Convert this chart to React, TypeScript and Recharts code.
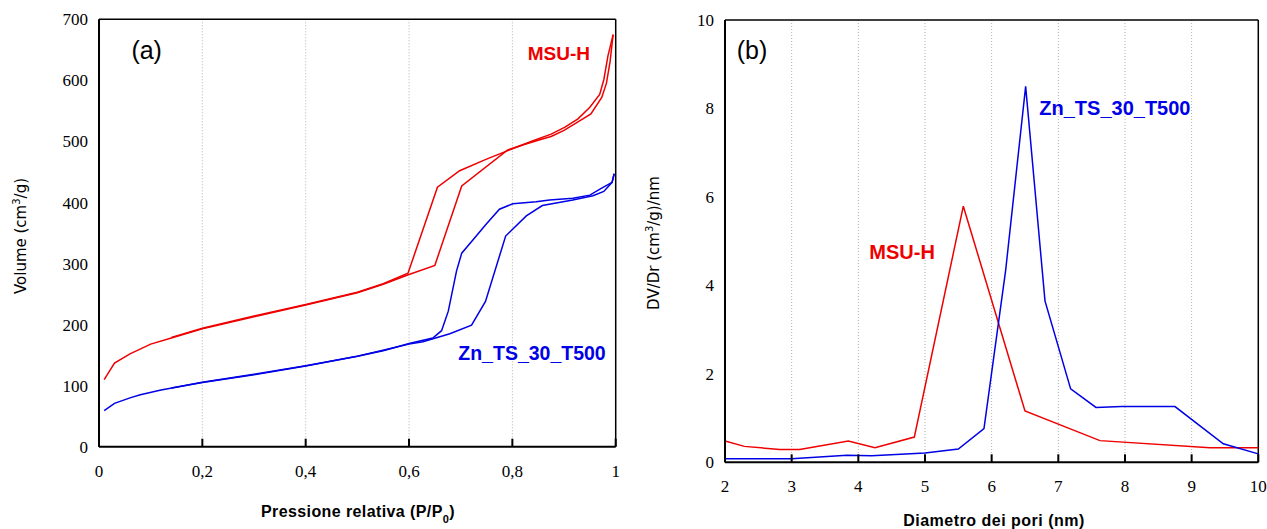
import { CartesianGrid, Line, LineChart, ReferenceLine, XAxis, YAxis } from "recharts";

// (a) isoterme di adsorbimento/desorbimento
const msuAdsP = [0.01, 0.03, 0.06, 0.1, 0.14, 0.2, 0.3, 0.4, 0.5, 0.55, 0.6, 0.65, 0.702, 0.791, 0.82, 0.85, 0.875, 0.9, 0.927, 0.952, 0.973, 0.982, 0.989, 0.995];
const msuAdsV = [110, 137, 152, 168, 178, 193, 213, 232, 252, 266, 282, 297, 427, 486, 494, 502, 508, 518, 532, 545, 572, 595, 630, 675];
const msuDesP = [0.995, 0.985, 0.977, 0.969, 0.95, 0.927, 0.901, 0.875, 0.84, 0.8, 0.75, 0.698, 0.655, 0.598, 0.55, 0.5, 0.4, 0.3, 0.2, 0.14];
const msuDesV = [675, 640, 601, 577, 556, 537, 523, 512, 501, 488, 471, 452, 425, 284, 267, 253, 233, 214, 194, 179];

const znAdsP = [0.01, 0.03, 0.06, 0.08, 0.12, 0.2, 0.3, 0.4, 0.5, 0.56, 0.6, 0.627, 0.679, 0.721, 0.748, 0.787, 0.827, 0.858, 0.917, 0.956, 0.977, 0.993, 0.997];
const znAdsV = [59, 71, 80, 85, 93, 105, 118, 132, 148, 160, 168, 172, 185, 199, 238, 345, 378, 395, 404, 411, 418, 433, 447];
const znDesP = [0.997, 0.993, 0.972, 0.95, 0.917, 0.872, 0.846, 0.801, 0.775, 0.75, 0.726, 0.702, 0.692, 0.676, 0.663, 0.646, 0.6, 0.55, 0.5, 0.4, 0.3, 0.2, 0.14];
const znDesV = [447, 433, 423, 412, 407, 404, 401, 398, 389, 365, 341, 317, 288, 222, 190, 178, 169, 157, 148, 132.5, 118.5, 105.5, 96];

const pressureTicks = [0, 0.2, 0.4, 0.6, 0.8, 1];
const pressureTickLabels = ["0", "0,2", "0,4", "0,6", "0,8", "1"];
const volumeTicks = [0, 100, 200, 300, 400, 500, 600, 700];

// (b) distribuzione dei pori
const msuPoreD = [2.0, 2.29, 2.82, 3.12, 3.85, 4.25, 4.84, 5.575, 6.5, 7.625, 9.275, 10];
const msuPoreV = [0.48, 0.36, 0.29, 0.29, 0.48, 0.33, 0.57, 5.79, 1.16, 0.49, 0.33, 0.33];
const znPoreD = [2, 3.0, 3.83, 4.2, 5.0, 5.5, 5.885, 6.21, 6.51, 6.8, 7.185, 7.565, 7.95, 8.75, 9.475, 10];
const znPoreV = [0.08, 0.08, 0.16, 0.15, 0.21, 0.3, 0.76, 4.34, 8.5, 3.65, 1.66, 1.24, 1.26, 1.26, 0.42, 0.19];

const diamTicks = [2, 3, 4, 5, 6, 7, 8, 9, 10];
const dvdrTicks = [0, 2, 4, 6, 8, 10];

const RED = "#ee0000";
const BLUE = "#0000e6";
const SERIF = "'Liberation Serif', 'Times New Roman', serif";
const SANS = "'Liberation Sans', Arial, sans-serif";

const toPoints = (xs: number[], ys: number[]) => xs.map((x, i) => ({ x, y: ys[i] }));

function XTick({ x, y, payload, fmt }: any) {
  return (
    <g>
      <line x1={x} x2={x} y1={y} y2={y - 8} stroke="#000" strokeWidth={2} />
      <text x={x} y={y + 24} dy="0.355em" textAnchor="middle" fontFamily={SERIF} fontSize={17} fill="#000">
        {fmt ? fmt(payload.value) : payload.value}
      </text>
    </g>
  );
}

const yTick = { fontFamily: SERIF, fontSize: 17, fill: "#000" };

export default function App() {
  const pressLabel = (v: number) => pressureTickLabels[pressureTicks.indexOf(v)] ?? String(v);

  return (
    <div style={{ position: "absolute", left: 0, top: 0, width: 1267, height: 529, background: "#fff" }}>
      <div style={{ position: "absolute", left: 0, top: 0 }}>
        <LineChart width={640} height={529} margin={{ top: 19.3, right: 24.3, left: 0, bottom: 42.3 }}>
          <CartesianGrid horizontal={false} stroke="#b0b0b0" strokeDasharray="1 2" />
          <XAxis
            type="number"
            dataKey="x"
            domain={[0, 1]}
            ticks={pressureTicks}
            height={40}
            tickSize={0}
            tickMargin={0}
            tickLine={false}
            axisLine={{ stroke: "#000", strokeWidth: 2 }}
            tick={(p: any) => <XTick {...p} fmt={pressLabel} />}
          />
          <YAxis
            type="number"
            domain={[0, 700]}
            ticks={volumeTicks}
            width={99}
            tickSize={0}
            tickMargin={11}
            tickLine={false}
            axisLine={{ stroke: "#000", strokeWidth: 2 }}
            tick={yTick}
          />
          <ReferenceLine y={700} stroke="#000" strokeWidth={1.5} />
          <ReferenceLine x={1} stroke="#000" strokeWidth={1.5} />
          <Line data={toPoints(msuAdsP, msuAdsV)} dataKey="y" stroke={RED} strokeWidth={1.5} dot={false} isAnimationActive={false} />
          <Line data={toPoints(msuDesP, msuDesV)} dataKey="y" stroke={RED} strokeWidth={1.5} dot={false} isAnimationActive={false} />
          <Line data={toPoints(znAdsP, znAdsV)} dataKey="y" stroke={BLUE} strokeWidth={1.5} dot={false} isAnimationActive={false} />
          <Line data={toPoints(znDesP, znDesV)} dataKey="y" stroke={BLUE} strokeWidth={1.5} dot={false} isAnimationActive={false} />
        </LineChart>
      </div>

      <div style={{ position: "absolute", left: 640, top: 0 }}>
        <LineChart width={627} height={529} margin={{ top: 20, right: 8.7, left: 0, bottom: 26.7 }}>
          <CartesianGrid horizontal={false} stroke="#b0b0b0" strokeDasharray="1 2" />
          <XAxis
            type="number"
            dataKey="x"
            domain={[2, 10]}
            ticks={diamTicks}
            height={40}
            tickSize={0}
            tickMargin={0}
            tickLine={false}
            axisLine={{ stroke: "#000", strokeWidth: 2 }}
            tick={(p: any) => <XTick {...p} />}
          />
          <YAxis
            type="number"
            domain={[0, 10]}
            ticks={dvdrTicks}
            width={85}
            tickSize={0}
            tickMargin={11}
            tickLine={false}
            axisLine={{ stroke: "#000", strokeWidth: 2 }}
            tick={yTick}
          />
          <ReferenceLine y={10} stroke="#000" strokeWidth={1.5} />
          <ReferenceLine x={10} stroke="#000" strokeWidth={1.5} />
          <Line data={toPoints(msuPoreD, msuPoreV)} dataKey="y" stroke={RED} strokeWidth={1.5} dot={false} isAnimationActive={false} />
          <Line data={toPoints(znPoreD, znPoreV)} dataKey="y" stroke={BLUE} strokeWidth={1.5} dot={false} isAnimationActive={false} />
        </LineChart>
      </div>

      <svg width={1267} height={529} style={{ position: "absolute", left: 0, top: 0, pointerEvents: "none" }}>
        <text x={26} y={236} transform="rotate(-90 26 236)" textAnchor="middle" fontFamily="'DejaVu Sans', sans-serif" fontSize={15} fill="#000">
          Volume (cm<tspan dy={-6} fontSize={10}>3</tspan><tspan dy={6}>/g)</tspan>
        </text>
        <text x={659} y={243} transform="rotate(-90 659 243)" textAnchor="middle" fontFamily="'DejaVu Sans', sans-serif" fontSize={15} fill="#000">
          DV/Dr (cm<tspan dy={-6} fontSize={10}>3</tspan><tspan dy={6}>/g)/nm</tspan>
        </text>
        <text x={358} y={516.7} textAnchor="middle" fontFamily={SANS} fontWeight="bold" fontSize={16} letterSpacing={0.4} fill="#000">
          Pressione relativa (P/P<tspan dy={6} fontSize={11}>0</tspan><tspan dy={-6}>)</tspan>
        </text>
        <text x={994} y={526} textAnchor="middle" fontFamily={SANS} fontWeight="bold" fontSize={16} letterSpacing={0.5} fill="#000">
          Diametro dei pori (nm)
        </text>
        <text x={131.4} y={58.5} fontFamily={SANS} fontSize={25} fill="#000">(a)</text>
        <text x={736.7} y={58.5} fontFamily={SANS} fontSize={25} fill="#000">(b)</text>
        <text x={527.7} y={60} fontFamily={SANS} fontWeight="bold" fontSize={19} fill={RED}>MSU-H</text>
        <text x={458.3} y={360} fontFamily={SANS} fontWeight="bold" fontSize={19.5} fill={BLUE}>Zn_TS_30_T500</text>
        <text x={869.3} y={258.6} fontFamily={SANS} fontWeight="bold" fontSize={20} fill={RED}>MSU-H</text>
        <text x={1039.3} y={115} fontFamily={SANS} fontWeight="bold" fontSize={20} fill={BLUE}>Zn_TS_30_T500</text>
      </svg>
    </div>
  );
}
